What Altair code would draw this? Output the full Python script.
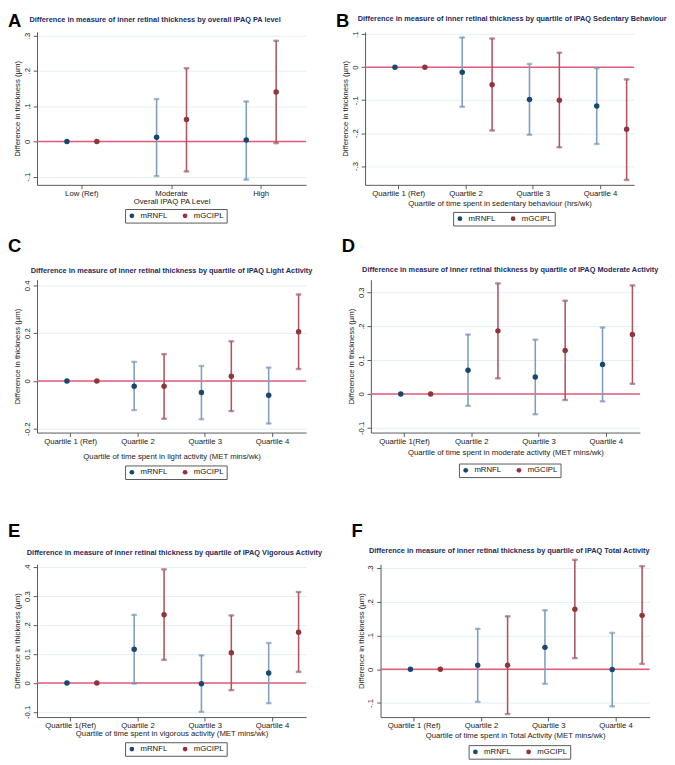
import json
import altair as alt
import pandas as pd

SERIES = ["mRNFL", "mGCIPL"]
POINT_COLORS = ["#1a476f", "#90353b"]
BAR_COLORS = ["#7f9dbf", "#ad5560"]
Y_TITLE = "Difference in thickness (µm)"

# ---------------- Panel A ----------------
A_cats = ["Low (Ref)", "Moderate", "High"]
A_rnfl = [0.0, 0.012, 0.004]
A_rnfl_lo = [0.0, -0.098, -0.108]
A_rnfl_hi = [0.0, 0.120, 0.113]
A_gcipl = [0.0, 0.062, 0.140]
A_gcipl_lo = [0.0, -0.085, -0.005]
A_gcipl_hi = [0.0, 0.207, 0.285]
A_ticks = [-0.1, 0, 0.1, 0.2, 0.3]
A_tick_labels = ["-.1", "0", ".1", ".2", ".3"]
A_domain = [-0.123, 0.31]

# ---------------- Panel B ----------------
B_cats = ["Quartile 1 (Ref)", "Quartile 2", "Quartile 3", "Quartile 4"]
B_rnfl = [0.0, -0.015, -0.098, -0.118]
B_rnfl_lo = [0.0, -0.120, -0.205, -0.233]
B_rnfl_hi = [0.0, 0.090, 0.010, -0.003]
B_gcipl = [0.0, -0.053, -0.100, -0.188]
B_gcipl_lo = [0.0, -0.192, -0.243, -0.342]
B_gcipl_hi = [0.0, 0.087, 0.044, -0.037]
B_ticks = [-0.3, -0.2, -0.1, 0, 0.1]
B_tick_labels = ["-.3", "-.2", "-.1", "0", ".1"]
B_domain = [-0.357, 0.107]

# ---------------- Panel C ----------------
C_cats = ["Quartile 1 (Ref)", "Quartile 2", "Quartile 3", "Quartile 4"]
C_rnfl = [0.0, -0.022, -0.048, -0.060]
C_rnfl_lo = [0.0, -0.122, -0.160, -0.178]
C_rnfl_hi = [0.0, 0.080, 0.063, 0.056]
C_gcipl = [0.0, -0.022, 0.020, 0.206]
C_gcipl_lo = [0.0, -0.158, -0.126, 0.050]
C_gcipl_hi = [0.0, 0.112, 0.166, 0.362]
C_ticks = [-0.2, 0, 0.2, 0.4]
C_tick_labels = ["-0.2", "0", "0.2", "0.4"]
C_domain = [-0.216, 0.424]

# ---------------- Panel D ----------------
D_cats = ["Quartile 1(Ref)", "Quartile 2", "Quartile 3", "Quartile 4"]
D_rnfl = [0.0, 0.070, 0.050, 0.087]
D_rnfl_lo = [0.0, -0.035, -0.060, -0.022]
D_rnfl_hi = [0.0, 0.175, 0.160, 0.196]
D_gcipl = [0.0, 0.186, 0.128, 0.175]
D_gcipl_lo = [0.0, 0.046, -0.018, 0.030]
D_gcipl_hi = [0.0, 0.326, 0.275, 0.320]
D_ticks = [-0.1, 0, 0.1, 0.2, 0.3]
D_tick_labels = ["-0.1", "0", "0.1", ".2", "0.3"]
D_domain = [-0.114, 0.337]

# ---------------- Panel E ----------------
E_cats = ["Quartile 1(Ref)", "Quartile 2", "Quartile 3", "Quartile 4"]
E_rnfl = [0.0, 0.116, -0.003, 0.034]
E_rnfl_lo = [0.0, -0.002, -0.100, -0.070]
E_rnfl_hi = [0.0, 0.235, 0.095, 0.138]
E_gcipl = [0.0, 0.235, 0.104, 0.175]
E_gcipl_lo = [0.0, 0.080, -0.025, 0.038]
E_gcipl_hi = [0.0, 0.392, 0.233, 0.314]
E_ticks = [-0.1, 0, 0.1, 0.2, 0.3, 0.4]
E_tick_labels = ["-0.1", "0", "0.1", ".2", "0.3", ".4"]
E_domain = [-0.118, 0.41]

# ---------------- Panel F ----------------
F_cats = ["Quartile 1 (Ref)", "Quartile 2", "Quartile 3", "Quartile 4"]
F_rnfl = [0.0, 0.012, 0.065, -0.001]
F_rnfl_lo = [0.0, -0.097, -0.043, -0.110]
F_rnfl_hi = [0.0, 0.120, 0.175, 0.108]
F_gcipl = [0.0, 0.012, 0.178, 0.160]
F_gcipl_lo = [0.0, -0.133, 0.033, 0.016]
F_gcipl_hi = [0.0, 0.157, 0.325, 0.306]
F_ticks = [-0.1, 0, 0.1, 0.2, 0.3]
F_tick_labels = ["-.1", "0", ".1", ".2", ".3"]
F_domain = [-0.142, 0.312]

TITLE_PREFIX = "Difference in measure of inner retinal thickness by "

W = 278
H = 158
FONT = "Liberation Sans"


def panel(letter, title, cats, xtitle, rnfl, rlo, rhi, gc, glo, ghi,
          ydom, ticks, tick_labels, letter_dy, title_dx, title_dy, title_pad, legend_dy):
    rows = []
    for i, c in enumerate(cats):
        rows.append(dict(cat=c, series="mRNFL", est=rnfl[i], lo=rlo[i], hi=rhi[i]))
        rows.append(dict(cat=c, series="mGCIPL", est=gc[i], lo=glo[i], hi=ghi[i]))
    df = pd.DataFrame(rows)

    label_expr = f"{json.dumps(tick_labels)}[indexof({json.dumps(ticks)}, datum.value)]"
    yscale = alt.Scale(domain=ydom, nice=False, zero=False)
    yaxis = alt.Axis(values=ticks, labelExpr=label_expr, labelAngle=270,
                     labelAlign="center", labelBaseline="bottom",
                     labelOverlap=False, labelBound=False,
                     tickSize=4, labelPadding=2, grid=True,
                     gridColor="#e3eef0", domainColor="#555",
                     tickColor="#555", titlePadding=2, title=Y_TITLE)

    def yenc(field):
        return alt.Y(field, scale=yscale, axis=yaxis, title=Y_TITLE)

    x_enc = alt.X("cat:N", sort=cats, title=xtitle,
                  scale=alt.Scale(paddingInner=0, paddingOuter=0),
                  axis=alt.Axis(labelAngle=0, grid=False, tickSize=4, labelPadding=1,
                                titlePadding=title_pad, domainColor="#555",
                                tickColor="#555"))
    xo_enc = alt.XOffset("series:N", sort=SERIES,
                         scale=alt.Scale(domain=SERIES, paddingInner=0, paddingOuter=0.5))

    base = alt.Chart(df).encode(x=x_enc, xOffset=xo_enc)

    zero = alt.Chart(pd.DataFrame({"ref": [0.0]})).mark_rule(
        color="#e35a7a", strokeWidth=1.6).encode(y=yenc("ref:Q"))

    bars_src = base.transform_filter("datum.lo != datum.hi")
    stroke_enc = alt.condition(f"datum.series == '{SERIES[0]}'",
                               alt.value(BAR_COLORS[0]), alt.value(BAR_COLORS[1]))
    bars = bars_src.mark_rule(strokeWidth=1.6).encode(
        y=yenc("lo:Q"), y2="hi:Q", stroke=stroke_enc)
    cap_lo = bars_src.mark_tick(orient="horizontal", size=5, thickness=1.4).encode(
        y=yenc("lo:Q"), stroke=stroke_enc)
    cap_hi = bars_src.mark_tick(orient="horizontal", size=5, thickness=1.4).encode(
        y=yenc("hi:Q"), stroke=stroke_enc)

    pts = base.mark_circle(size=32, opacity=1).encode(
        y=yenc("est:Q"),
        color=alt.Color("series:N", sort=SERIES,
                        scale=alt.Scale(domain=SERIES, range=POINT_COLORS),
                        legend=alt.Legend(orient="none", legendX=W / 2 - 48,
                                          legendY=H + legend_dy,
                                          direction="horizontal",
                                          title=None, strokeColor="#555", padding=3,
                                          labelFontSize=8, labelFont=FONT,
                                          labelColor="#111",
                                          symbolSize=24, symbolType="circle",
                                          columnPadding=14, labelOffset=5)))

    lab = alt.Chart(pd.DataFrame({"t": [letter]})).mark_text(
        align="left", baseline="top", fontSize=19, fontWeight="bold",
        font=FONT, color="#000").encode(text="t:N", x=alt.value(-30),
                                        y=alt.value(letter_dy))

    ttl = alt.Chart(pd.DataFrame({"t": [TITLE_PREFIX + title]})).mark_text(
        align="center", baseline="middle", fontSize=7.6, fontWeight="bold",
        font=FONT, color="#1e2b5c").encode(text="t:N", x=alt.value(W / 2 + title_dx),
                                            y=alt.value(title_dy))

    return alt.layer(zero, bars, cap_lo, cap_hi, pts, lab, ttl).properties(
        width=W, height=H)


pA = panel("A", "overall IPAQ PA level", A_cats, "Overall IPAQ PA Level",
           A_rnfl, A_rnfl_lo, A_rnfl_hi, A_gcipl, A_gcipl_lo, A_gcipl_hi,
           A_domain, A_ticks, A_tick_labels, -20, -17, -12, 0, 25)
pB = panel("B", "quartile of IPAQ Sedentary Behaviour", B_cats,
           "Quartile of time spent in sedentary behaviour (hrs/wk)",
           B_rnfl, B_rnfl_lo, B_rnfl_hi, B_gcipl, B_gcipl_lo, B_gcipl_hi,
           B_domain, B_ticks, B_tick_labels, -20, 13, -13, 2, 28)
pC = panel("C", "quartile of IPAQ Light Activity", C_cats,
           "Quartile of time spent in light activity (MET mins/wk)",
           C_rnfl, C_rnfl_lo, C_rnfl_hi, C_gcipl, C_gcipl_lo, C_gcipl_hi,
           C_domain, C_ticks, C_tick_labels, -44, 0, -9, 8, 34)
pD = panel("D", "quartile of IPAQ Moderate Activity", D_cats,
           "Quartile of time spent in moderate activity (MET mins/wk)",
           D_rnfl, D_rnfl_lo, D_rnfl_hi, D_gcipl, D_gcipl_lo, D_gcipl_hi,
           D_domain, D_ticks, D_tick_labels, -44, 5, -10, 4, 32)
pE = panel("E", "quartile of IPAQ Vigorous Activity", E_cats,
           "Quartile of time spent in vigorous activity (MET mins/wk)",
           E_rnfl, E_rnfl_lo, E_rnfl_hi, E_gcipl, E_gcipl_lo, E_gcipl_hi,
           E_domain, E_ticks, E_tick_labels, -43, 3, -12, 0, 26)
pF = panel("F", "quartile of IPAQ Total Activity", F_cats,
           "Quartile of time spent in Total Activity (MET mins/wk)",
           F_rnfl, F_rnfl_lo, F_rnfl_hi, F_gcipl, F_gcipl_lo, F_gcipl_hi,
           F_domain, F_ticks, F_tick_labels, -43, -6, -14, 2, 29)


def indep(c):
    return c.resolve_scale(color="independent", y="independent",
                           x="independent").resolve_legend(color="independent")


row1 = indep(alt.hconcat(pA, pB, spacing=30))
row2 = indep(alt.hconcat(pC, pD, spacing=30))
row3 = indep(alt.hconcat(pE, pF, spacing=30))

top = indep(alt.vconcat(row1, row2, spacing=11))
chart = indep(alt.vconcat(top, row3, spacing=44))

chart = chart.configure(padding={"top": -8, "left": 0, "right": 0, "bottom": 0},
                        background="white").configure_view(
    stroke=None
).configure_axis(
    labelFont=FONT, titleFont=FONT, labelFontSize=8, titleFontSize=8,
    titleFontWeight="normal", labelColor="#222", titleColor="#222"
)

chart.save("out.html", embed_options={"renderer": "svg", "actions": False})
